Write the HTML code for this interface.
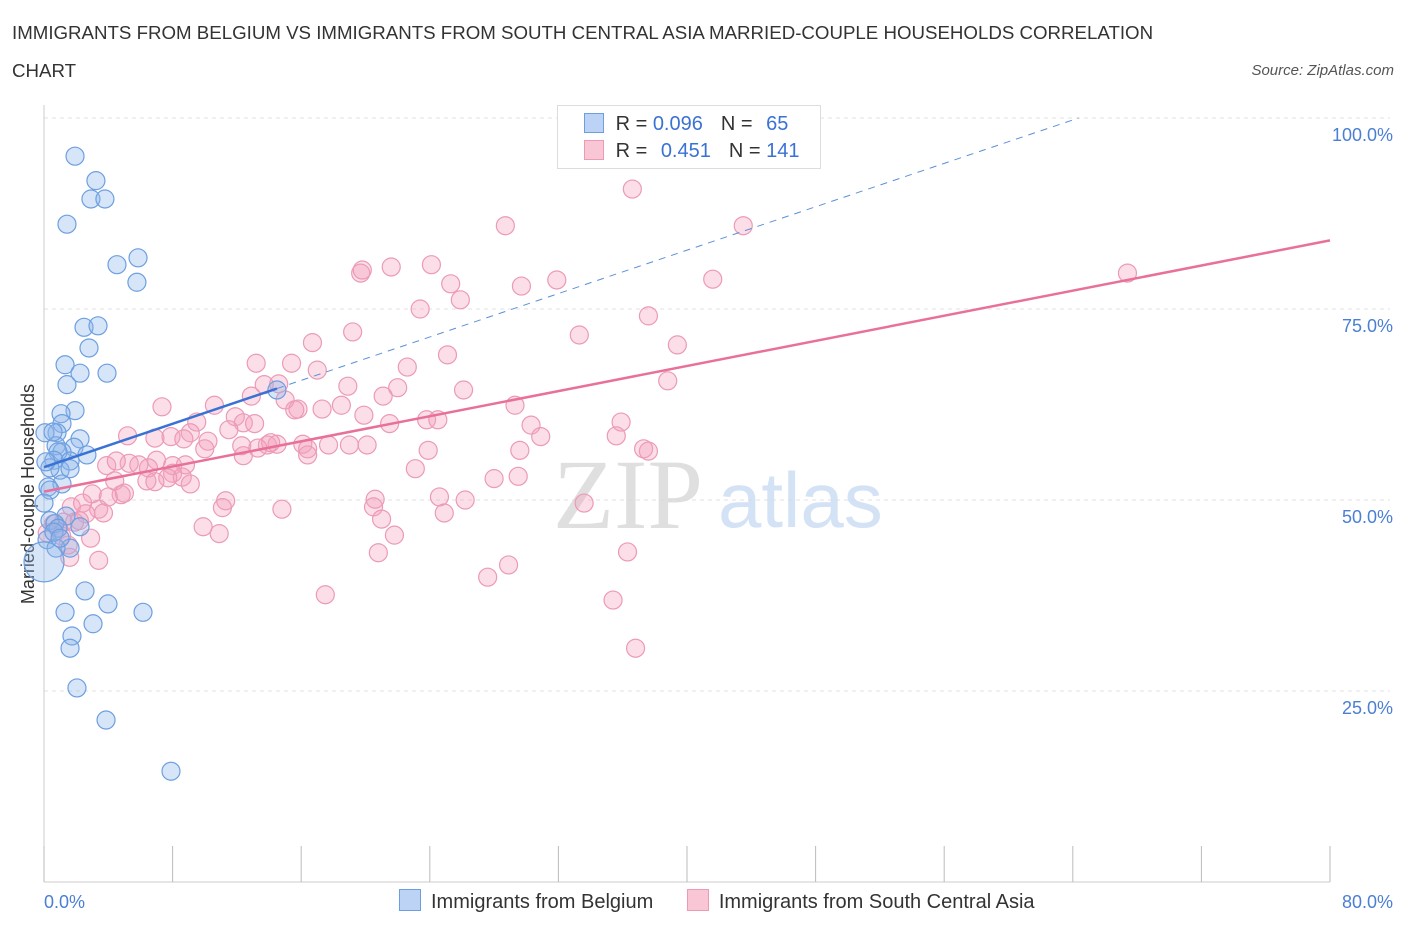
<!DOCTYPE html>
<html><head><meta charset="utf-8">
<style>
body{margin:0;background:#fff;font-family:"Liberation Sans",sans-serif;}
#wrap{position:relative;width:1406px;height:930px;overflow:hidden;}
.t{position:absolute;white-space:nowrap;}
</style></head>
<body>
<div id="wrap">
<div class="t" style="left:12px;top:14px;font-size:18.7px;color:#333;line-height:38px;">IMMIGRANTS FROM BELGIUM VS IMMIGRANTS FROM SOUTH CENTRAL ASIA MARRIED-COUPLE HOUSEHOLDS CORRELATION<br>CHART</div>
<div class="t" style="right:12px;top:62px;font-size:15px;color:#555;font-style:italic;">Source: ZipAtlas.com</div>
<svg id="plot" width="1406" height="930" style="position:absolute;left:0;top:0"></svg>
</div>
<script>
const blueX=[1.93,3.23,2.92,3.79,1.43,4.54,5.85,5.78,2.49,3.36,2.80,1.31,2.24,3.92,1.43,1.93,1.06,1.12,0.81,0.06,2.24,0.75,1.87,1.12,0.87,2.67,0.62,1.62,1.0,1.62,1.12,0.25,0.37,0,1.37,0.37,0.68,2.24,0.87,0.19,1.62,0.75,0,2.55,3.98,1.31,6.16,3.05,1.74,1.62,2.05,3.86,7.90,14.49,0.37,0.56,0.12,0.62,1.0];
const blueY=[95.0,91.8,89.4,89.4,86.1,80.8,81.7,78.5,72.6,72.8,69.9,67.7,66.6,66.6,65.1,61.7,61.3,60.0,58.8,58.8,58.0,57.1,56.9,56.3,56.3,55.9,55.2,55.1,53.9,54.1,52.1,51.7,51.3,49.6,47.9,47.3,46.9,46.5,46.3,44.8,43.7,43.7,41.9,38.1,36.4,35.3,35.3,33.8,32.2,30.6,25.4,21.2,14.5,64.4,54.2,58.9,55.0,45.8,45.0];
const pinkX=[36.6,28.7,43.5,67.4,19.7,19.8,21.6,24.1,25.3,29.7,31.9,41.6,23.4,25.9,37.6,19.2,33.3,16.7,39.4,25.1,13.2,15.4,22.6,17.0,38.8,18.9,26.1,13.7,14.6,22.0,21.1,12.9,7.34,10.6,18.5,15.0,29.3,15.8,17.3,15.6,19.9,11.9,12.4,21.5,23.8,24.5,35.9,30.3,11.5,9.5,13.1,9.1,7.9,5.2,8.7,10.2,6.9,13.9,12.3,14.5,14.1,13.3,16.1,16.4,17.7,19.0,20.1,30.9,35.6,37.3,37.6,23.9,29.6,12.4,16.4,10.0,5.3,7.0,5.9,8.0,8.8,6.5,8.0,8.6,3.9,4.5,7.7,6.4,4.4,9.1,6.9,23.1,28.0,29.5,3.0,4.8,4.0,5.0,1.7,2.4,3.4,3.7,2.6,11.3,11.1,14.8,20.6,20.5,24.6,26.2,24.9,33.6,21.0,9.9,10.9,1.2,1.9,2.2,0.6,0.9,0.2,1.1,2.9,1.5,21.8,20.8,36.3,3.4,1.6,27.6,28.9,17.5,35.4,36.8];
const pinkY=[90.7,85.9,85.9,79.7,79.7,80.1,80.5,80.8,78.3,78.0,78.8,78.9,75.0,76.2,74.1,72.0,71.6,70.6,70.3,69.0,67.9,67.9,67.4,67.0,65.6,64.9,64.4,65.1,65.2,64.7,63.6,63.6,62.2,62.4,62.4,63.1,62.4,61.9,61.9,61.8,61.1,60.9,60.1,60.0,60.5,60.5,60.2,59.8,59.2,60.2,60.0,58.8,58.3,58.4,58.0,57.7,58.1,57.2,57.1,57.3,57.5,56.8,57.3,56.7,57.2,57.2,57.2,58.3,58.4,56.7,56.4,56.5,56.5,55.8,55.9,56.7,54.8,55.2,54.6,54.5,54.6,54.2,53.5,53.0,54.5,55.1,52.9,52.5,52.5,52.1,52.4,54.1,52.8,53.1,50.8,50.7,50.4,50.9,49.1,49.6,48.8,48.3,48.2,49.9,49.0,48.8,50.1,49.1,50.4,50.0,48.3,49.6,47.5,46.5,45.6,47.1,47.1,47.3,46.9,46.3,45.7,45.3,45.0,44.1,45.4,43.1,43.2,42.1,42.5,39.9,41.5,37.6,36.9,30.6];
const blueTrend=[54.3,0.710]; // intercept, slope
const pinkTrend=[51.1,0.411];
const yTicks=[25,50,75,100];
const yTickLabels=["25.0%","50.0%","75.0%","100.0%"];
const xTicks=[0,8,16,24,32,40,48,56,64,72,80];

const NS="http://www.w3.org/2000/svg";
const svg=document.getElementById('plot');
const X0=44,X1=1330,Y0=882,YTOP=118;
const sx=v=>X0+(X1-X0)*v/80;
const sy=v=>Y0-(Y0-YTOP)*v/100;
function mk(tag,attrs,parent){const e=document.createElementNS(NS,tag);for(const k in attrs)e.setAttribute(k,attrs[k]);(parent||svg).appendChild(e);return e;}

yTicks.forEach((v,i)=>{
  const g=mk('line',{x1:X0,x2:1390,y1:sy(v),y2:sy(v),stroke:'#e2e2e2','stroke-dasharray':'4,4'});
  
  
  const t=mk('text',{x:1393,y:sy(v)+23,'text-anchor':'end','font-size':18,fill:'#4a7fd4','font-family':'Liberation Sans, sans-serif'});
  t.textContent=yTickLabels[i];
  
  
});
const ya=mk('line',{x1:X0,x2:X0,y1:105,y2:Y0,stroke:'#ccc'});


const xa=mk('line',{x1:X0,x2:X1,y1:Y0,y2:Y0,stroke:'#ccc'});


xTicks.forEach(v=>{
  const l=mk('line',{x1:sx(v),x2:sx(v),y1:846,y2:Y0,stroke:'#bbb'});
  
  
});
[[0,'0.0%','start',44],[80,'80.0%','end',1393]].forEach(a=>{
  const t=mk('text',{x:a[3],y:908,'text-anchor':a[2],'font-size':18,fill:'#4a7fd4','font-family':'Liberation Sans, sans-serif'});
  t.textContent=a[1];
  
  
});
const yt=mk('text',{x:34,y:494,transform:'rotate(-90 34 494)','text-anchor':'middle','font-size':18,fill:'#333','font-family':'Liberation Sans, sans-serif'});
yt.textContent='Married-couple Households';



// watermark
const w1=mk('text',{x:553,y:528,'font-size':100,fill:'#d8d8d8','font-family':'Liberation Serif, serif','opacity':0.8});
w1.textContent='ZIP';


const w2=mk('text',{x:718,y:527,'font-size':78,fill:'#c9dbf2','font-family':'Liberation Sans, sans-serif','opacity':0.8});
w2.textContent='atlas';



pinkX.forEach((v,i)=>{
  const c=mk('circle',{cx:sx(v),cy:sy(pinkY[i]),r:9,fill:'rgba(244,160,190,0.35)',stroke:'#ec9ab6','stroke-width':1.2});
  
  
});
blueX.forEach((v,i)=>{
  const big=(v===0&&blueY[i]<43);
  const c=mk('circle',{cx:sx(v),cy:sy(blueY[i]),r:big?20:9,fill:'rgba(140,180,235,0.35)',stroke:'#6d9fe0','stroke-width':1.2});
  
  
});
const bMax=Math.max(...blueX);
const bEnd=(100-blueTrend[0])/blueTrend[1];
const bd=mk('line',{x1:sx(bMax),y1:sy(blueTrend[0]+blueTrend[1]*bMax),x2:sx(bEnd),y2:sy(100),stroke:'#5b8fd9','stroke-width':1,'stroke-dasharray':'7,6'});


const bl=mk('line',{x1:sx(0),y1:sy(blueTrend[0]),x2:sx(bMax),y2:sy(blueTrend[0]+blueTrend[1]*bMax),stroke:'#3a72d4','stroke-width':2.5});


const pl=mk('line',{x1:sx(0),y1:sy(pinkTrend[0]),x2:sx(80),y2:sy(pinkTrend[0]+pinkTrend[1]*80),stroke:'#e8709a','stroke-width':2.5});


</script>

<div style="position:absolute;left:557px;top:105px;width:262px;height:62px;border:1px solid #ddd;background:#fff;font-size:20px;color:#333;">
  <div style="position:absolute;left:26px;top:7px;white-space:nowrap;">
    <span style="display:inline-block;width:18px;height:18px;background:#bcd3f5;border:1px solid #6d9fe0;vertical-align:-3px;"></span>
    <span style="margin-left:6px">R = </span><span style="color:#3a72d4">0.096</span><span style="margin-left:18px">N = </span><span style="color:#3a72d4;margin-left:8px">65</span>
  </div>
  <div style="position:absolute;left:26px;top:34px;white-space:nowrap;">
    <span style="display:inline-block;width:18px;height:18px;background:#f9c6d6;border:1px solid #ec9ab6;vertical-align:-3px;"></span>
    <span style="margin-left:6px">R = </span><span style="color:#3a72d4;margin-left:8px">0.451</span><span style="margin-left:18px">N = </span><span style="color:#3a72d4">141</span>
  </div>
</div>

<div style="position:absolute;left:399px;top:889px;font-size:20px;color:#333;white-space:nowrap;">
  <span><span style="display:inline-block;width:20px;height:20px;background:#bcd3f5;border:1px solid #6d9fe0;vertical-align:-3px;"></span><span style="margin-left:10px">Immigrants from Belgium</span></span>
  <span style="margin-left:28px"><span style="display:inline-block;width:20px;height:20px;background:#f9c6d6;border:1px solid #ec9ab6;vertical-align:-3px;"></span><span style="margin-left:10px">Immigrants from South Central Asia</span></span>
</div>
</body></html>
